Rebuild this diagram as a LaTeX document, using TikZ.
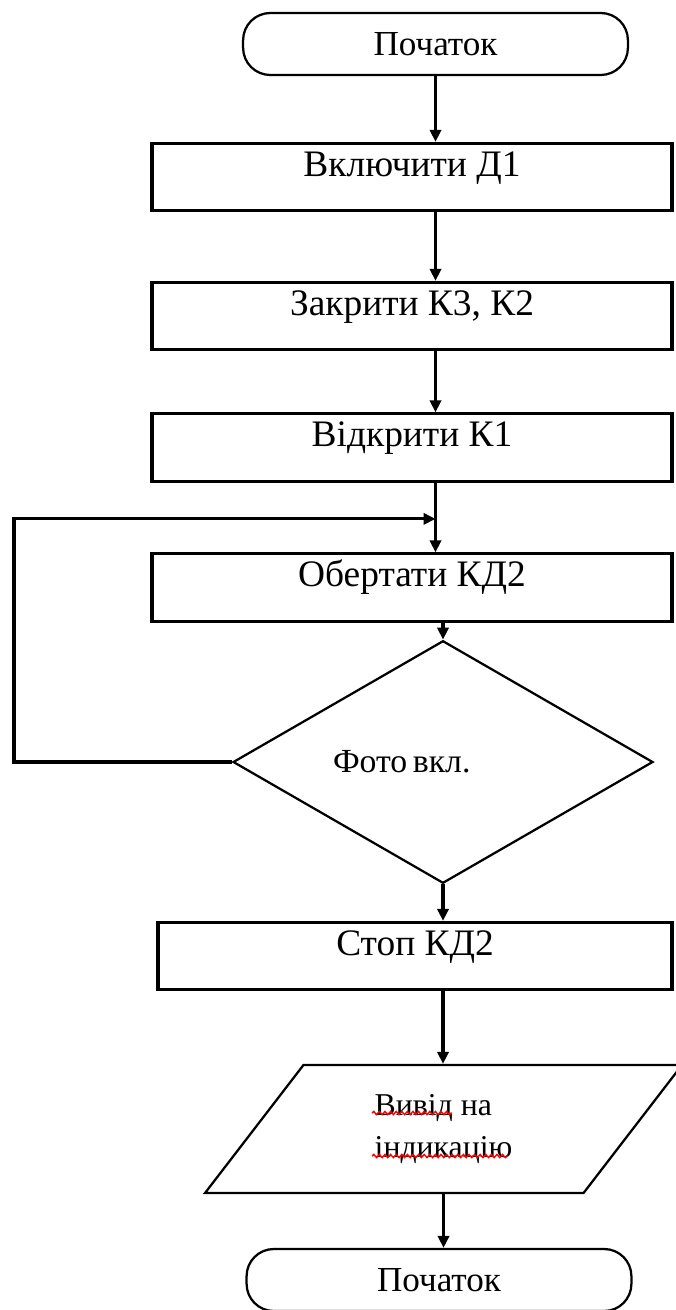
\documentclass[tikz,border=0pt]{standalone}
\usepackage{fontspec}
\setmainfont{Liberation Serif}
\usetikzlibrary{shapes.geometric,arrows.meta,decorations.pathmorphing}

\begin{document}
\begin{tikzpicture}[x=0.125mm,y=-0.125mm,font=\fontsize{12}{15}\selectfont,
  term/.style={draw,line width=0.8pt,rounded corners=3.4mm,minimum width=48.1mm,minimum height=7.75mm,inner sep=0pt,font=\fontsize{12.5}{15}\selectfont},
  act/.style={draw,line width=1.1pt,minimum width=65mm,inner sep=0pt,text height=4.1mm,text depth=4.3mm,font=\fontsize{13.3}{16}\selectfont},
  test/.style={diamond,draw,line width=0.8pt,minimum width=52.5mm,minimum height=25.75mm,inner sep=0pt,text width=27.5mm,align=left},
  io/.style={trapezium,trapezium left angle=55,trapezium right angle=125,trapezium stretches=true,draw,line width=0.8pt,minimum width=60.1mm,minimum height=16mm,inner sep=0pt,align=left,font=\fontsize{11.3}{14.9}\selectfont},
  arr/.style={-{Triangle[length=1.5mm,width=1.4mm]},line width=1.1pt},
  squig/.style={red,line width=0.5pt,decorate,decoration={snake,amplitude=0.2mm,segment length=0.7mm}}]
\useasboundingbox (0,0) rectangle (675,1310);
\node[term] (s1) at (435.5,44) {Початок};
\node[act] (b1) at (412,177) {Включити Д1};
\node[act] (b2) at (412,316) {Закрити К3, К2};
\node[act] (b3) at (412,447.5) {Відкрити К1};
\node[act] (b4) at (412,587.5) {Обертати КД2};
\node[test] (d1) at (443,762) {Фото\,вкл.};
\node[act,minimum width=64.25mm] (b5) at (415,956) {Стоп КД2};
\node[io] (p1) at (443.5,1129) {Вивід на\\індикацію};
\node[term] (s2) at (439,1280) {Початок};
\draw[squig] (372,1113) -- (452,1113);
\draw[squig] (372,1156) -- (508,1156);
\coordinate (back) at (14,0);
\path (b3.south -| s1.south) -- coordinate[pos=0.52] (merge) (b4.north -| s1.south);
\draw[arr] (s1.south) -- (s1.south |- b1.north);
\draw[arr] (b1.south -| s1.south) -- (b2.north -| s1.south);
\draw[arr] (b2.south -| s1.south) -- (b3.north -| s1.south);
\draw[arr] (b3.south -| s1.south) -- (b4.north -| s1.south);
\draw[arr] (d1.west) -| (back |- merge) -- (merge);
\draw[arr] (b4.south -| d1.north) -- (d1.north);
\draw[arr] (d1.south) -- (d1.south |- b5.north);
\draw[arr] (b5.south -| d1.south) -- (p1.north -| d1.south);
\draw[arr] (p1.south) -- (p1.south |- s2.north);
\end{tikzpicture}
\end{document}
